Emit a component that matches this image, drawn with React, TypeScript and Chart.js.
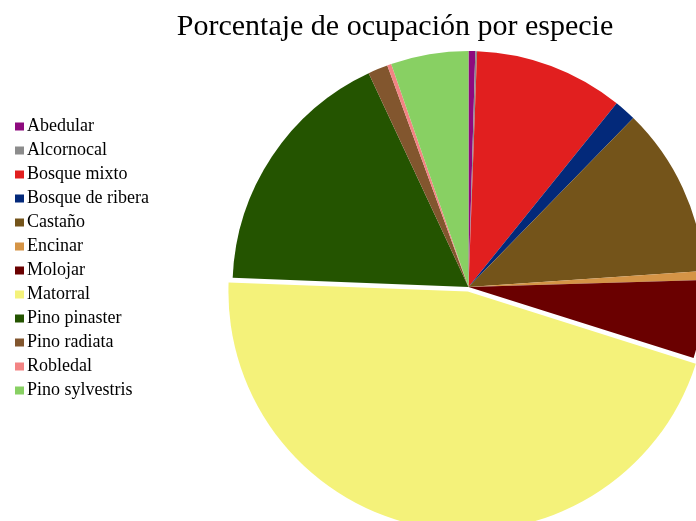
import React, { useEffect, useRef } from "react";
import { Chart, registerables } from "chart.js";

Chart.register(...registerables);

const TITLE = "Porcentaje de ocupación por especie";
const categories = [
  "Abedular",
  "Alcornocal",
  "Bosque mixto",
  "Bosque de ribera",
  "Castaño",
  "Encinar",
  "Molojar",
  "Matorral",
  "Pino pinaster",
  "Pino radiata",
  "Robledal",
  "Pino sylvestris",
];
const values = [0.46, 0.12, 10.22, 1.5, 11.61, 0.61, 5.33, 45.75, 17.42, 1.36, 0.28, 5.31];
const colors = [
  "#8E0A7E",
  "#8C8C8C",
  "#E11F1F",
  "#03297A",
  "#74541A",
  "#D59446",
  "#6A0000",
  "#F4F27A",
  "#245400",
  "#82562E",
  "#F38484",
  "#88D063",
];
const offsets = [0, 0, 0, 0, 0, 0, 0, 18, 0, 0, 0, 0];

const overlayPlugin = {
  id: "overlay",
  afterDraw(chart: any) {
    const ctx = chart.ctx;
    ctx.save();
    ctx.fillStyle = "#000";
    ctx.font = '30px "Liberation Serif"';
    ctx.textAlign = "center";
    ctx.textBaseline = "alphabetic";
    ctx.fillText(TITLE, 395, 35);
    ctx.font = '18px "Liberation Serif"';
    ctx.textAlign = "left";
    const labels = chart.data.labels as string[];
    const bg = chart.data.datasets[0].backgroundColor as string[];
    labels.forEach((lab, i) => {
      const base = 131 + 24 * i;
      ctx.fillStyle = bg[i];
      ctx.fillRect(15, base - 8.5, 9, 8);
      ctx.fillStyle = "#000";
      ctx.fillText(lab, 27, base);
    });
    ctx.restore();
  },
};

export default function App() {
  const ref = useRef<HTMLCanvasElement | null>(null);
  useEffect(() => {
    if (!ref.current) return;
    const chart = new Chart(ref.current, {
      type: "pie",
      data: {
        labels: categories,
        datasets: [
          {
            data: values,
            backgroundColor: colors,
            borderWidth: 0,
            offset: offsets,
            clip: false,
          } as any,
        ],
      },
      options: {
        animation: false,
        responsive: false,
        radius: 236,
        layout: { padding: { left: 241, right: 0, top: 53, bottom: 0 } },
        plugins: {
          legend: { display: false },
          title: { display: false },
          tooltip: { enabled: false },
        },
      } as any,
      plugins: [overlayPlugin],
    });
    return () => chart.destroy();
  }, []);
  return (
    <div style={{ position: "absolute", left: 0, top: 0, width: 696, height: 521, background: "#fff" }}>
      <canvas ref={ref} width={696} height={521} style={{ width: 696, height: 521 }} />
    </div>
  );
}
